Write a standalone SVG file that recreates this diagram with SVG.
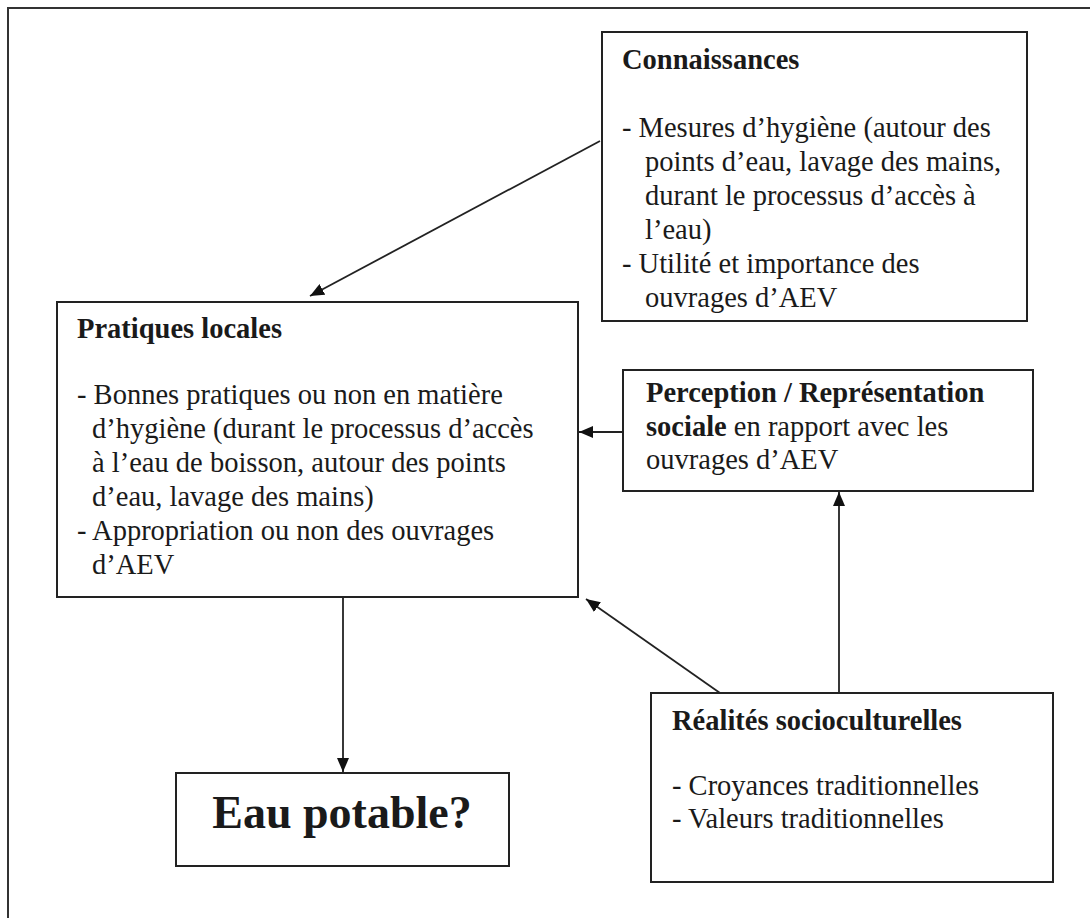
<svg xmlns="http://www.w3.org/2000/svg" width="1090" height="918" viewBox="0 0 1090 918">
<style>
.box{fill:#fff;stroke:#222;stroke-width:2}
.t{font-family:"Liberation Serif","Times New Roman",serif;font-size:28.5px;fill:#1a1a1a}
.b{font-weight:bold}
.conn{stroke:#222;stroke-width:1.8;fill:none}
.frame{stroke:#333;stroke-width:2;fill:none}
</style>
<defs>
<marker id="ah" markerUnits="userSpaceOnUse" markerWidth="14" markerHeight="12" refX="14" refY="6" orient="auto">
<path d="M0,0 L14,6 L0,12 z" fill="#111"/>
</marker>
</defs>
<path class="frame" d="M1090,8 H8 V918"/>
<g id="connectors">
<line class="conn" x1="600" y1="141" x2="310" y2="296" marker-end="url(#ah)"/>
<line class="conn" x1="623" y1="432" x2="579" y2="432" marker-end="url(#ah)"/>
<line class="conn" x1="839" y1="693" x2="839" y2="492" marker-end="url(#ah)"/>
<line class="conn" x1="720" y1="693" x2="586" y2="599" marker-end="url(#ah)"/>
<line class="conn" x1="343" y1="597" x2="343" y2="772" marker-end="url(#ah)"/>
</g>
<g id="connaissances">
<rect class="box" x="602" y="32" width="425" height="289"/>
<text class="t b" x="622" y="69">Connaissances</text>
<text class="t" x="622" y="137">- Mesures d’hygiène (autour des</text>
<text class="t" x="645" y="171">points d’eau, lavage des mains,</text>
<text class="t" x="645" y="205">durant le processus d’accès à</text>
<text class="t" x="645" y="239">l’eau)</text>
<text class="t" x="622" y="273">- Utilité et importance des</text>
<text class="t" x="645" y="307">ouvrages d’AEV</text>
</g>
<g id="pratiques">
<rect class="box" x="57" y="302" width="521" height="295"/>
<text class="t b" x="77" y="338">Pratiques locales</text>
<text class="t" x="77" y="404">- Bonnes pratiques ou non en matière</text>
<text class="t" x="92" y="438">d’hygiène (durant le processus d’accès</text>
<text class="t" x="92" y="472">à l’eau de boisson, autour des points</text>
<text class="t" x="92" y="506">d’eau, lavage des mains)</text>
<text class="t" x="77" y="540">- Appropriation ou non des ouvrages</text>
<text class="t" x="92" y="574">d’AEV</text>
</g>
<g id="perception">
<rect class="box" x="623" y="370" width="410" height="121"/>
<text class="t b" x="646" y="402">Perception / Représentation</text>
<text class="t" x="646" y="436"><tspan class="b">sociale</tspan> en rapport avec les</text>
<text class="t" x="646" y="469">ouvrages d’AEV</text>
</g>
<g id="realites">
<rect class="box" x="651" y="693" width="402" height="189"/>
<text class="t b" x="672" y="730">Réalités socioculturelles</text>
<text class="t" x="672" y="795">- Croyances traditionnelles</text>
<text class="t" x="672" y="828">- Valeurs traditionnelles</text>
</g>
<g id="eau">
<rect class="box" x="176" y="773" width="333" height="93"/>
<text class="t b" x="342" y="828" text-anchor="middle" style="font-size:46px">Eau potable?</text>
</g>
</svg>
